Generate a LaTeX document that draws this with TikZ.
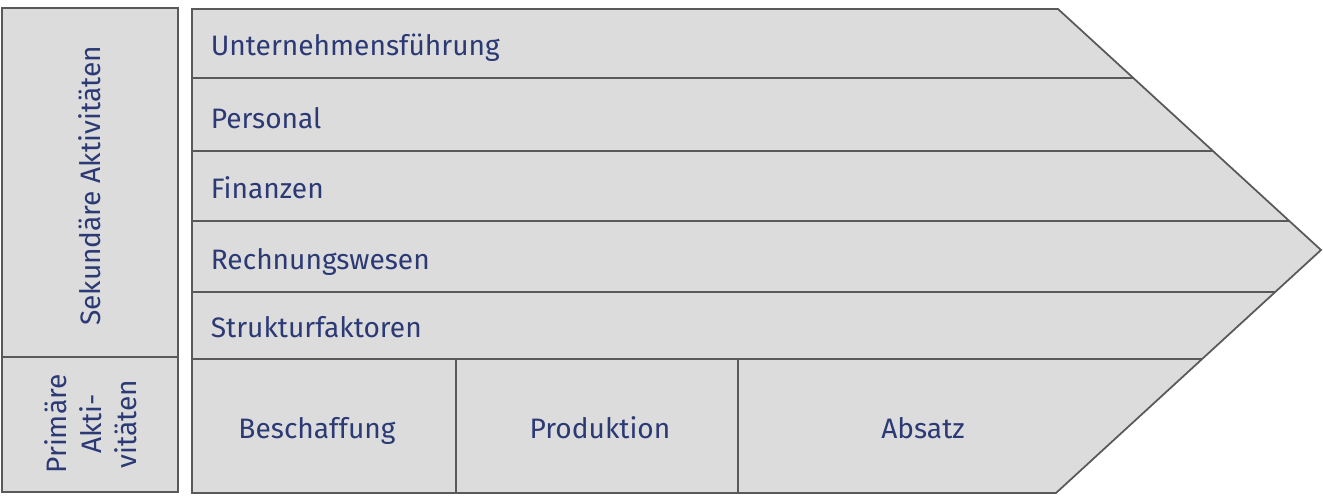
\documentclass[tikz,border=0pt]{standalone}
\usepackage{fontspec}
\setmainfont{Fira Sans}
\definecolor{chainfill}{HTML}{DCDCDC}
\definecolor{chainline}{HTML}{595959}
\definecolor{chaintext}{HTML}{2B3975}
\begin{document}
\begin{tikzpicture}[x=0.02cm,y=-0.02cm,line width=1pt,draw=chainline,
  frame/.style={draw=chainline,fill=chainfill},
  lbl/.style={text=chaintext,font=\fontsize{16}{20}\selectfont,inner sep=0pt}]
  \useasboundingbox (0,0) rectangle (1323,501);
  % left column
  \draw[frame] (2,8) rectangle (178,492); \draw (2,357) -- (178,357);
  \node[lbl,rotate=90] (sekundaer) at (90,186) {Sekundäre Aktivitäten};
  \node[lbl,rotate=90,align=center] (primaer) at (91,424)
  {Primäre\\Akti-\\vitäten};
  % the chain
  \draw[frame] (192,9) -- (1058,9) -- (1321,250) -- (1056,493) --
  (192,493) -- cycle;
  \foreach \y/\x in {78/1133,151/1213,221/1289,292/1275,359/1202}
  \draw (192,\y) -- (\x,\y);
  \draw (456,359) -- (456,493) (738,359) -- (738,493);
  \node[lbl,anchor=base west] (fuehrung) at (210,55) {Unternehmensführung};
  \node[lbl,anchor=base west] (personal) at (210,128) {Personal};
  \node[lbl,anchor=base west] (finanzen) at (210,198) {Finanzen};
  \node[lbl,anchor=base west] (rewe) at (210,269) {Rechnungswesen};
  \node[lbl,anchor=base west] (struktur) at (210,337) {Strukturfaktoren};
  \node[lbl,anchor=base] (beschaffung) at (317,438) {Beschaffung};
  \node[lbl,anchor=base] (produktion) at (600,438) {Produktion};
  \node[lbl,anchor=base] (absatz) at (923,438) {Absatz};
\end{tikzpicture}
\end{document}
